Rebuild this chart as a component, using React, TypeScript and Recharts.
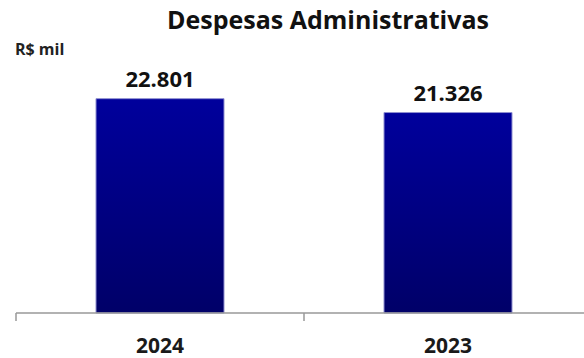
import { Bar, BarChart, LabelList, XAxis, YAxis } from 'recharts'

// Values in R$ mil
const years = ['2024', '2023']
const expenses = [22801, 21326]

const data = years.map((year, i) => ({ year, value: expenses[i] }))

const FONT = '"Open Sans", "Noto Sans", sans-serif'
const fmt = (v: number) => v.toLocaleString('pt-BR')

// chart geometry
const LEFT = 16
const PLOT_W = 576
const BAND = PLOT_W / years.length

// category label plus a tick mark on the band's left edge
function YearTick(props: any) {
  const { x, y, payload } = props
  const edge = x - BAND / 2
  return (
    <g>
      <line x1={edge} y1={y - 8} x2={edge} y2={y} stroke='#999' strokeWidth={1.5} />
      <text x={x} y={y + 32} textAnchor='middle' fontFamily={FONT} fontWeight={700} fontSize={21} fill='#1a1a1a'>
        {payload.value}
      </text>
    </g>
  )
}

export default function App() {
  return (
    <div style={{ position: 'absolute', left: 0, top: 0, width: 584, height: 358, overflow: 'hidden', background: '#fff' }}>
      {/* Title */}
      <div
        style={{
          position: 'absolute',
          left: 0,
          width: 656,
          top: 2,
          textAlign: 'center',
          fontFamily: FONT,
          fontWeight: 700,
          fontSize: 25,
          color: '#111',
        }}
      >
        Despesas Administrativas
      </div>
      <div style={{ position: 'absolute', left: 15, top: 38, fontFamily: FONT, fontWeight: 700, fontSize: 16, color: '#222' }}>
        R$ mil
      </div>
      <BarChart
        width={LEFT + PLOT_W + 8}
        height={358}
        data={data}
        margin={{ top: 31, right: 8, bottom: 0, left: LEFT }}
        barSize={128}
      >
        <defs>
          <linearGradient id='barFill' x1='0' y1='0' x2='0' y2='1'>
            <stop offset='0%' stopColor='#00009c' />
            <stop offset='100%' stopColor='#000068' />
          </linearGradient>
        </defs>
        <YAxis hide domain={[0, 30000]} />
        <XAxis
          dataKey='year'
          height={45}
          axisLine={{ stroke: '#999', strokeWidth: 1.5 }}
          tickLine={false}
          tick={<YearTick />}
          interval={0}
        />
        <Bar dataKey='value' fill='url(#barFill)' stroke='#8f8fd0' strokeWidth={1} isAnimationActive={false}>
          <LabelList
            dataKey='value'
            position='top'
            offset={12}
            formatter={(v: any) => fmt(Number(v))}
            style={{ fontFamily: FONT, fontWeight: 700, fontSize: 22, fill: '#111' }}
          />
        </Bar>
      </BarChart>
    </div>
  )
}
